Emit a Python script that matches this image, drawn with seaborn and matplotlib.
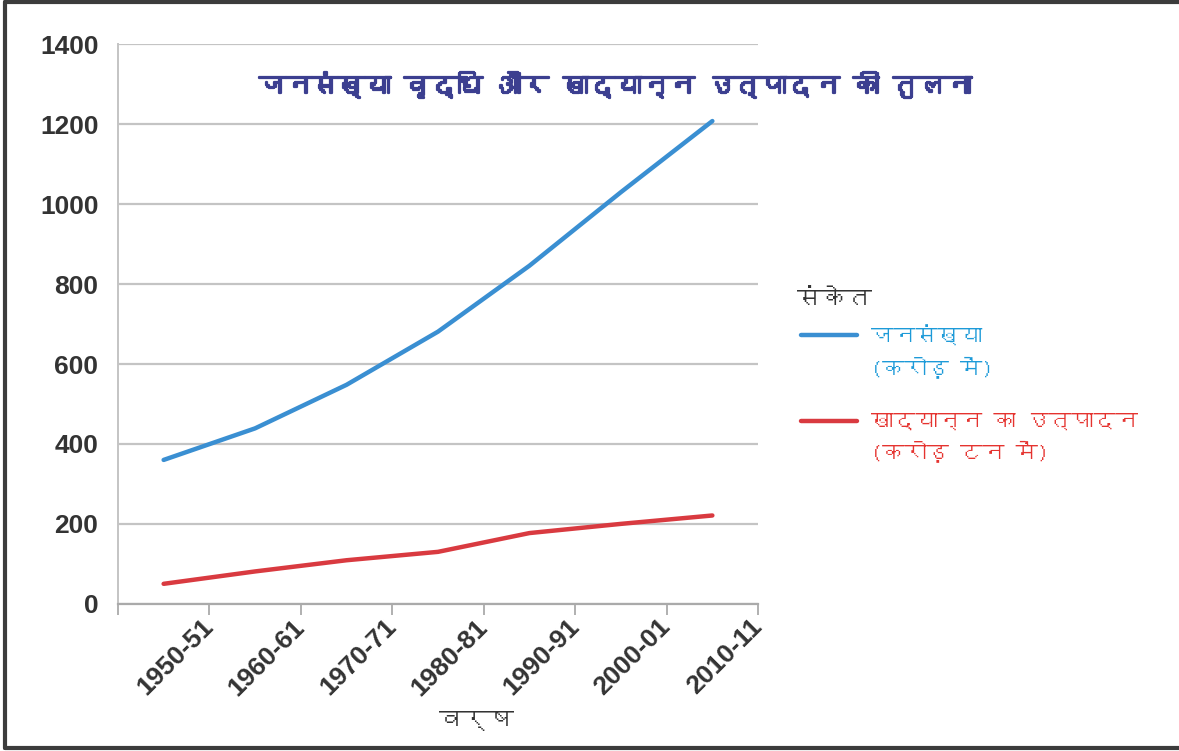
import matplotlib
matplotlib.use('Agg')
import matplotlib.pyplot as plt
import matplotlib.font_manager as fm
import matplotlib.patheffects as pe
from matplotlib.lines import Line2D
from matplotlib.legend_handler import HandlerLine2D
import seaborn as sns
import pandas as pd

# data
years = ['1950-51', '1960-61', '1970-71', '1980-81', '1990-91', '2000-01', '2010-11']
population = [360, 439, 548, 681, 846, 1030, 1208]   # करोड़ में (as drawn)
foodgrain = [50, 81, 109, 130, 177, 200, 221]

title_txt = 'जनसंख्या वृद्धि और खाद्यान्न उत्पादन की तुलना'
xlabel_txt = 'वर्ष'
legend_title = 'संकेत'
pop_label = 'जनसंख्या\n(करोड़ में)'
food_label = 'खाद्यान्न का उत्पादन\n(करोड़ टन में)'

blue = '#3a8fd2'
red = '#d93a40'
blue_txt = '#1d9ad8'
red_txt = '#e5332f'
title_col = '#3c3f90'
dark = '#333333'


def find_font(ch):
    # look for any installed font that has the glyph
    try:
        from fontTools.ttLib import TTFont
    except ImportError:
        return None
    for f in fm.fontManager.ttflist:
        try:
            tt = TTFont(f.fname, fontNumber=0, lazy=True)
            if ord(ch) in tt.getBestCmap():
                return f.name
        except Exception:
            continue
    return None


class FirstLineHandler(HandlerLine2D):
    # put the legend line level with the first line of a two-line label
    def __init__(self, shift, **kw):
        super().__init__(**kw)
        self.shift = shift

    def create_artists(self, legend, orig_handle, xdescent, ydescent, width,
                       height, fontsize, trans):
        arts = super().create_artists(legend, orig_handle, xdescent, ydescent,
                                      width, height, fontsize, trans)
        for a in arts:
            a.set_ydata([y + self.shift for y in a.get_ydata()])
        return arts


sns.set_theme(style='whitegrid')
deva = find_font('ज')
fams = ([deva] if deva else []) + ['Liberation Sans', 'DejaVu Sans']
plt.rcParams['font.family'] = fams
latin = ['Liberation Sans', 'DejaVu Sans']

df = pd.DataFrame({'x': [i + 0.5 for i in range(len(years))],
                   'pop': population, 'food': foodgrain})

fig = plt.figure(figsize=(11.79, 7.51), dpi=100)
ax = fig.add_axes([0.100, 0.196, 0.543, 0.745])

sns.lineplot(data=df, x='x', y='pop', ax=ax, color=blue, lw=3.2, label=pop_label)
sns.lineplot(data=df, x='x', y='food', ax=ax, color=red, lw=3.2, label=food_label)

ax.set_xlim(0, len(years))
ax.set_ylim(0, 1400)
ax.set_yticks(range(0, 1401, 200))
ax.set_xticks(range(1, len(years) + 1))
ax.set_xticks(range(0, len(years) + 1), minor=True)
ax.set_xticklabels(years, rotation=45, ha='right', va='center', rotation_mode='anchor',
                   fontsize=19, fontweight='bold', color=dark, family=latin)
for lab in ax.get_yticklabels():
    lab.set_fontsize(19)
    lab.set_fontweight('bold')
    lab.set_color(dark)
    lab.set_family(latin)

ax.grid(axis='x', visible=False)
ax.grid(axis='y', color='#c4c4c4', lw=1.6)
ax.tick_params(axis='y', length=8, width=1.4, color='#c4c4c4', pad=6)
ax.tick_params(axis='x', which='both', length=8, width=1.4, color='#b0b0b0', pad=6,
               bottom=True)
ax.tick_params(axis='x', which='minor', labelbottom=False)
for s in ['top', 'right']:
    ax.spines[s].set_visible(False)
ax.spines['left'].set_color('#c4c4c4')
ax.spines['left'].set_linewidth(1.4)
ax.spines['bottom'].set_color('#aaaaaa')
ax.spines['bottom'].set_linewidth(1.6)

ax.set_xlabel(xlabel_txt, fontsize=18, color=dark)
ax.xaxis.set_label_coords(0.56, -0.19)
ax.set_ylabel('')

fig.text(0.522, 0.887, title_txt, ha='center', va='center', fontsize=19,
         fontweight='bold', color=title_col,
         path_effects=[pe.withStroke(linewidth=1.6, foreground=title_col)])

# legend: handle sits at the first line of each two-line label
fig.text(0.676, 0.601, legend_title, ha='left', va='center', fontsize=18, color=dark)
leg = ax.legend(loc='upper left', bbox_to_anchor=(0.679, 0.567),
                bbox_transform=fig.transFigure, borderaxespad=0, borderpad=0,
                frameon=False, fontsize=16, handlelength=2.55, handletextpad=0.6,
                labelspacing=1.6, handler_map={Line2D: FirstLineHandler(11.8)})
for txt, c in zip(leg.get_texts(), [blue_txt, red_txt]):
    txt.set_color(c)
    txt.set_linespacing(1.5)

# frame around the image (left, top, bottom)
fig.add_artist(Line2D([0.004, 0.004], [0.004, 0.997], color='#3c3c3c', lw=3))
fig.add_artist(Line2D([0.004, 1.0], [0.997, 0.997], color='#3c3c3c', lw=3))
fig.add_artist(Line2D([0.004, 1.0], [0.004, 0.004], color='#3c3c3c', lw=3))

fig.savefig('out.png', dpi=100, facecolor='white')
